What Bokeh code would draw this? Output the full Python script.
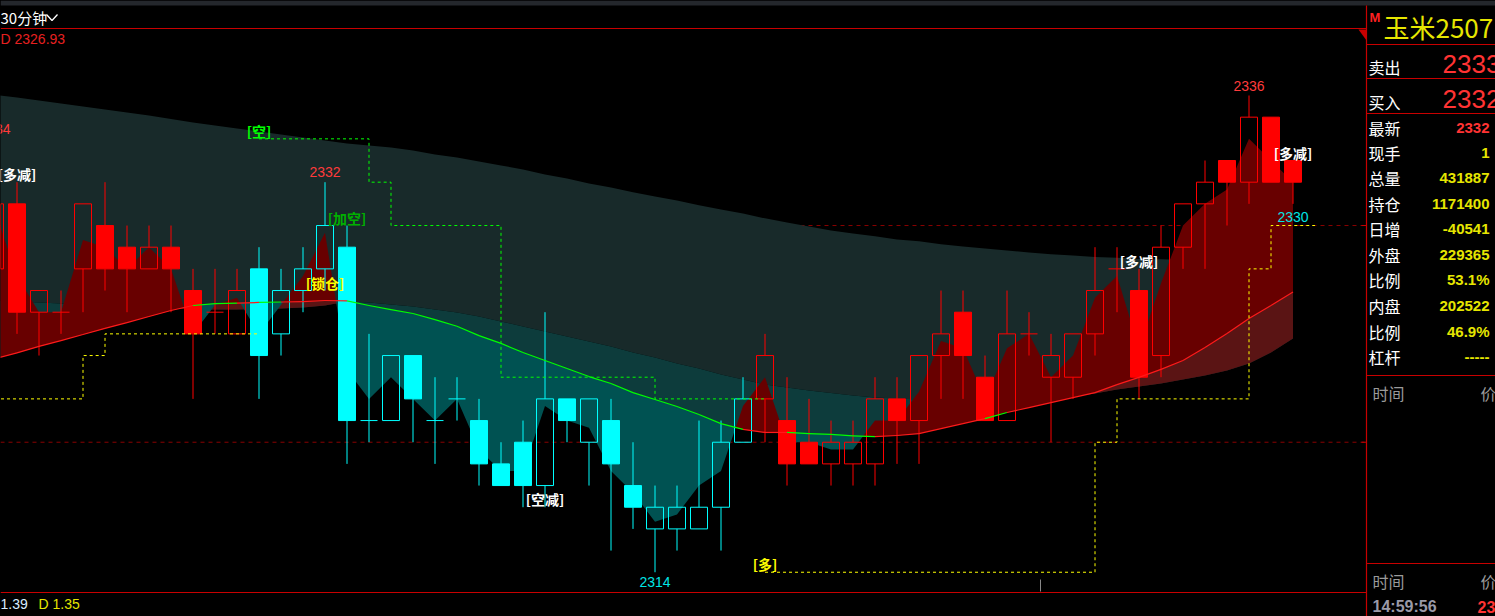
import numpy as np
from bokeh.plotting import figure
from bokeh.models import Range1d, GlobalInlineStyleSheet
from bokeh.core.properties import value
from bokeh.embed import file_html
from bokeh.resources import INLINE

# ---------------- data ----------------
bars = list(range(-1, 59))
opens = [2328, 2331, 2326, 2326, 2328, 2330, 2329, 2328, 2329, 2327, 2326, 2325,
         2328, 2325, 2327, 2328, 2329, 2321, 2321, 2324, 2321, 2322, 2321, 2319,
         2320, 2318, 2322, 2320, 2321, 2318, 2316, 2316, 2316, 2317, 2320, 2322,
         2321, 2320, 2319, 2319, 2319, 2322, 2321, 2324, 2326, 2323, 2321, 2325,
         2323, 2323, 2325, 2328, 2327, 2324, 2329, 2331, 2333, 2332, 2335, 2333]
highs = [2334, 2332, 2327, 2327, 2331, 2332, 2330, 2330, 2330, 2328, 2328, 2328,
         2329, 2328, 2329, 2332, 2330, 2325, 2324, 2324, 2323, 2323, 2322, 2320,
         2321, 2326, 2322, 2322, 2322, 2320, 2318, 2318, 2321, 2321, 2323, 2325,
         2323, 2322, 2321, 2321, 2323, 2323, 2324, 2327, 2327, 2324, 2327, 2326,
         2325, 2325, 2329, 2329, 2328, 2330, 2331, 2333, 2333, 2336, 2335, 2333]
lows = [2327, 2325, 2324, 2325, 2326, 2327, 2326, 2328, 2326, 2322, 2325, 2325,
        2322, 2324, 2326, 2327, 2319, 2320, 2321, 2320, 2319, 2321, 2318, 2318,
        2317, 2317, 2320, 2318, 2315, 2316, 2314, 2315, 2316, 2315, 2320, 2320,
        2318, 2319, 2318, 2318, 2318, 2319, 2319, 2322, 2322, 2321, 2321, 2324,
        2320, 2322, 2324, 2326, 2322, 2323, 2328, 2328, 2330, 2331, 2332, 2331]
closes = [2331, 2326, 2327, 2326, 2331, 2328, 2328, 2329, 2328, 2325, 2326, 2327,
          2324, 2327, 2328, 2330, 2321, 2321, 2324, 2322, 2321, 2322, 2319, 2318,
          2318, 2322, 2321, 2322, 2319, 2317, 2317, 2317, 2317, 2320, 2322, 2324,
          2319, 2319, 2320, 2320, 2322, 2321, 2324, 2325, 2324, 2321, 2325, 2325,
          2324, 2325, 2327, 2328, 2323, 2329, 2331, 2332, 2332, 2335, 2332, 2332]
# 1 = long phase (red), -1 = short phase (cyan)
trend = [1, 1, 1, 1, 1, 1, 1, 1, 1, 1, 1, 1,
         -1, -1, -1, -1, -1, -1, -1, -1, -1, -1, -1, -1,
         -1, -1, -1, -1, -1, -1, -1, -1, -1, -1, -1, 1,
         1, 1, 1, 1, 1, 1, 1, 1, 1, 1, 1, 1,
         1, 1, 1, 1, 1, 1, 1, 1, 1, 1, 1, 1]
ma_mid = [2323.86, 2324.12, 2324.42, 2324.69, 2324.97, 2325.25, 2325.52, 2325.80,
          2326.08, 2326.31, 2326.40, 2326.42, 2326.45, 2326.47, 2326.49, 2326.54,
          2326.52, 2326.31, 2326.12, 2325.94, 2325.66, 2325.35, 2324.92, 2324.56,
          2324.14, 2323.77, 2323.40, 2323.03, 2322.71, 2322.29, 2321.97, 2321.65,
          2321.28, 2320.86, 2320.59, 2320.45, 2320.45, 2320.40, 2320.36, 2320.29,
          2320.26, 2320.31, 2320.40, 2320.63, 2320.86, 2321.09, 2321.37, 2321.60,
          2321.83, 2322.06, 2322.29, 2322.66, 2322.99, 2323.36, 2323.77, 2324.37,
          2325.02, 2325.71, 2326.31, 2326.93]
band_upper = [2336.02, 2335.91, 2335.77, 2335.63, 2335.49, 2335.35, 2335.22, 2335.08,
              2334.92, 2334.75, 2334.62, 2334.48, 2334.34, 2334.20, 2334.06, 2333.92,
              2333.79, 2333.69, 2333.60, 2333.46, 2333.28, 2333.14, 2332.96, 2332.77,
              2332.59, 2332.36, 2332.17, 2331.94, 2331.76, 2331.53, 2331.34, 2331.16,
              2330.93, 2330.74, 2330.56, 2330.33, 2330.14, 2329.96, 2329.77, 2329.63,
              2329.50, 2329.36, 2329.27, 2329.13, 2329.03, 2328.94, 2328.85, 2328.76,
              2328.67, 2328.62, 2328.55, 2328.51, 2328.46, 2328.44, 2328.41, 2328.39,
              2328.37, 2328.34, 2328.32, 2328.30]
band_slow = [2326.54, 2326.49, 2326.45, 2326.40, 2326.36, 2326.31, 2326.26, 2326.22,
             2326.17, 2326.12, 2326.12, 2326.12, 2326.15, 2326.17, 2326.22, 2326.31,
             2326.49, 2326.45, 2326.36, 2326.26, 2326.12, 2325.99, 2325.80, 2325.57,
             2325.34, 2325.11, 2324.88, 2324.65, 2324.42, 2324.14, 2323.91, 2323.63,
             2323.40, 2323.12, 2322.89, 2322.66, 2322.53, 2322.39, 2322.27, 2322.16,
             2322.06, 2322.02, 2321.97, 2321.95, 2321.92, 2321.92, 2321.95, 2321.97,
             2322.02, 2322.11, 2322.25, 2322.43, 2322.57, 2322.71, 2322.89, 2323.08,
             2323.31, 2323.63, 2324.14, 2324.79]

# stop lines
long_stop1_bars = [-1, 0, 1, 2, 3, 4, 5, 6, 7, 8, 9, 10, 11]
long_stop1_vals = [2322, 2322, 2322, 2322, 2324, 2325, 2325, 2325, 2325, 2325, 2325, 2325, 2325]
short_stop_bars = list(range(11, 35))
short_stop_vals = [2334, 2334, 2334, 2334, 2334, 2332, 2330, 2330, 2330, 2330, 2330, 2323,
                   2323, 2323, 2323, 2323, 2323, 2323, 2322, 2322, 2322, 2322, 2322, 2322]
long_stop2_bars = list(range(34, 60))
long_stop2_vals = [2314, 2314, 2314, 2314, 2314, 2314, 2314, 2314, 2314, 2314, 2314, 2314,
                   2314, 2314, 2314, 2320, 2322, 2322, 2322, 2322, 2322, 2322, 2328, 2330,
                   2330, 2330]

# signal labels
sig_bars = [0, 11, 14, 15, 24, 34, 51, 58]
sig_levels = [2332, 2334, 2327, 2330, 2317, 2314, 2328, 2333]
sig_texts = ["[多减]", "[空]", "[锁仓]", "[加空]", "[空减]", "[多]", "[多减]", "[多减]"]

# extreme price labels
peak_bars = [-1, 14, 56]
trough_bars = [29]
grid_levels = [2330, 2320]

# quote panel
symbol = "玉米2507"
ask_price, bid_price = 2333, 2332
panel_labels = ["最新", "现手", "总量", "持仓", "日增", "外盘", "比例", "内盘", "比例", "杠杆"]
panel_values = ["2332", "1", "431887", "1171400", "-40541", "229365", "53.1%", "202522", "46.9%", "-----"]
sub_values = ["1.39", "D 1.35"]
last_time, last_px = "14:59:56", "23"

# ---------------- geometry helpers (page px -> data) ----------------
def X(xr):
    return (xr - 16.5) / 22.0

def Y(yr):
    return 2336 - (yr - 95) / 21.67

W, H = 1495, 616
p = figure(width=W, height=H, x_range=Range1d(X(0), X(W)), y_range=Range1d(Y(H), Y(0)),
           output_backend="svg", toolbar_location=None, min_border=0,
           x_axis_type=None, y_axis_type=None,
           background_fill_color="black", border_fill_color="black", outline_line_color=None)
p.xgrid.visible = False
p.ygrid.visible = False
p.stylesheets = [GlobalInlineStyleSheet(css="html, body { background: #000; }")]

CJK = value("Noto Sans CJK SC")
SANS = value("Liberation Sans")

bx = np.array(bars, dtype=float)
O = np.array(opens, float); Hh = np.array(highs, float); L = np.array(lows, float); C = np.array(closes, float)
MA = np.array(ma_mid); U = np.array(band_upper); S = np.array(band_slow)
M = (Hh + L + C) / 3.0

# top strip
p.quad(left=X(0), right=X(1495), top=Y(0), bottom=Y(5), fill_color="#24272c", line_color=None)

# grid dashed
for g in grid_levels:
    p.line([X(0), X(1365)], [g, g], line_color="#8a0000", line_dash="4 4", line_width=1)

def split(xs, a, b):
    xo, ao, bo = [], [], []
    for i in range(len(xs)):
        if i > 0:
            d0 = a[i - 1] - b[i - 1]; d1 = a[i] - b[i]
            if d0 * d1 < 0:
                t = d0 / (d0 - d1)
                xc = xs[i - 1] + t * (xs[i] - xs[i - 1])
                yc = a[i - 1] + t * (a[i] - a[i - 1])
                xo.append(xc); ao.append(yc); bo.append(yc)
        xo.append(xs[i]); ao.append(a[i]); bo.append(b[i])
    xo = np.array(xo); ao = np.array(ao); bo = np.array(bo)
    return xo, ao, bo, np.maximum(ao, bo)

# dark cloud band
p.varea(x=bx, y1=S, y2=U, fill_color="#182a2a")
# mid vs slow band
xs_, a_, b_, up_ = split(bx, MA, S)
p.varea(x=xs_, y1=b_, y2=up_, fill_color="#5a1414")   # MA above slow
p.varea(x=xs_, y1=a_, y2=up_, fill_color="#0d3c3c")   # MA below slow
# mountain fill
xs_, a_, b_, up_ = split(bx, M, MA)
p.varea(x=xs_, y1=b_, y2=up_, fill_color="#680000")
p.varea(x=xs_, y1=a_, y2=up_, fill_color="#005252")

# candles
RED, CYAN = "#ff0000", "#00ffff"
cols = [RED if t > 0 else CYAN for t in trend]
bw = 17.0 / 22.0
top = np.maximum(O, C); bot = np.minimum(O, C)
hol = [i for i in range(len(bars)) if C[i] > O[i]]
fil = [i for i in range(len(bars)) if C[i] < O[i]]
doj = [i for i in range(len(bars)) if C[i] == O[i]]
uw = [i for i in range(len(bars)) if Hh[i] > top[i]]
lw = [i for i in range(len(bars)) if L[i] < bot[i]]
p.segment(x0=bx[uw], y0=top[uw], x1=bx[uw], y1=Hh[uw], line_color=[cols[i] for i in uw], line_width=1)
p.segment(x0=bx[lw], y0=bot[lw], x1=bx[lw], y1=L[lw], line_color=[cols[i] for i in lw], line_width=1)
p.vbar(x=bx[hol], width=bw, top=top[hol], bottom=bot[hol], fill_alpha=0,
       line_color=[cols[i] for i in hol], line_width=1)
p.vbar(x=bx[fil], width=bw, top=top[fil], bottom=bot[fil],
       fill_color=[cols[i] for i in fil], line_color=[cols[i] for i in fil], line_width=1)
p.segment(x0=bx[doj] - bw / 2, y0=O[doj], x1=bx[doj] + bw / 2, y1=O[doj],
          line_color=[cols[i] for i in doj], line_width=1)

# mid line, coloured by close vs line
seg_col = ["#ff1a1a" if C[i] >= MA[i] else "#00ff00" for i in range(len(bars) - 1)]
p.segment(x0=bx[:-1], y0=MA[:-1], x1=bx[1:], y1=MA[1:], line_color=seg_col, line_width=1.2)

# stop lines
p.step(x=long_stop1_bars, y=long_stop1_vals, mode="after", line_color="#ffff00", line_dash="3 3", line_width=1)
p.step(x=short_stop_bars, y=short_stop_vals, mode="after", line_color="#00ff00", line_dash="3 3", line_width=1)
p.step(x=long_stop2_bars, y=long_stop2_vals, mode="after", line_color="#ffff00", line_dash="3 3", line_width=1)

# signal labels
sig_colors = {"[多减]": "#ffffff", "[空减]": "#ffffff", "[空]": "#00ff00", "[加空]": "#00b000",
              "[锁仓]": "#ffff00", "[多]": "#ffff00"}
for b, lv, t in zip(sig_bars, sig_levels, sig_texts):
    p.text(x=[b], y=[lv], text=[t], text_color=sig_colors[t], text_font=CJK, text_font_size="14px",
           text_font_style="bold", text_align="center", text_baseline="middle", y_offset=-8)

# extreme labels
for b in peak_bars:
    i = bars.index(b)
    p.text(x=[b], y=[highs[i]], text=[str(highs[i])], text_color="#ff3b3b", text_font=SANS,
           text_font_size="14px", text_align="center", text_baseline="middle", y_offset=-10)
for b in trough_bars:
    i = bars.index(b)
    p.text(x=[b], y=[lows[i]], text=[str(lows[i])], text_color="#00e5e5", text_font=SANS,
           text_font_size="14px", text_align="center", text_baseline="middle", y_offset=10)
p.text(x=[bars[-1]], y=[long_stop2_vals[-1]], text=[str(long_stop2_vals[-1])], text_color="#00e5e5",
       text_font=SANS, text_font_size="14px", text_align="center", text_baseline="middle", y_offset=-9)

# ---------------- frame decorations ----------------
def hline(y, x0, x1, color="#c80000", w=1.2):
    p.line([X(x0), X(x1)], [Y(y), Y(y)], line_color=color, line_width=w)

def txt(xr, yr, s, color, size, font=CJK, style="normal", align="left"):
    p.text(x=[X(xr)], y=[Y(yr)], text=[s], text_color=color, text_font=font,
           text_font_size=f"{size}px", text_font_style=style, text_align=align, text_baseline="middle")

hline(28, 0, 1366)
hline(592, 0, 1366)
p.line([X(1366), X(1366)], [Y(5), Y(616)], line_color="#c80000", line_width=1.2)
for yy in [44, 78, 113, 375, 563]:
    hline(yy, 1366, 1495)
for g in grid_levels:
    p.line([X(1361), X(1366)], [g, g], line_color="#c80000", line_width=1)
p.patch([X(1358), X(1366), X(1366)], [Y(29), Y(29), Y(40)], fill_color="#c80000", line_color=None)
p.line([X(1040), X(1040)], [Y(579), Y(591)], line_color="#888888", line_width=1)

# header
txt(0, 17, "30分钟", "#ffffff", 15)
p.line([X(46), X(51.5), X(57)], [Y(14), Y(20), Y(14)], line_color="#ffffff", line_width=1.3)
txt(0, 38, f"D {ma_mid[-1]:.2f}", "#e82020", 14, font=SANS)
# sub pane values
txt(0, 603, sub_values[0], "#d8ecff", 14, font=SANS)
txt(38, 603, sub_values[1], "#e6e600", 14, font=SANS)

# quote panel
txt(1369, 17, "M", "#ff2020", 13, font=SANS, style="bold")
txt(1383, 26, symbol, "#e6e600", 26)
txt(1368, 66, "卖出", "#ffffff", 16)
txt(1442, 63, str(ask_price), "#ff3333", 26, font=SANS)
txt(1368, 101, "买入", "#ffffff", 16)
txt(1442, 98, str(bid_price), "#ff3333", 26, font=SANS)
row_y = [127, 152, 177, 203, 228, 254, 279, 305, 331, 356]
for i, (lab, val) in enumerate(zip(panel_labels, panel_values)):
    txt(1368, row_y[i], lab, "#ffffff", 16)
    txt(1489, row_y[i], val, "#ff3333" if i == 0 else "#e6e600", 15, font=SANS, style="bold", align="right")
txt(1372, 392, "时间", "#9a9a9a", 16)
txt(1480, 392, "价", "#9a9a9a", 16)
txt(1372, 580, "时间", "#9a9a9a", 16)
txt(1480, 580, "价", "#9a9a9a", 16)
txt(1372, 606, last_time, "#9a9aa8", 16, font=SANS, style="bold")
txt(1477, 606, last_px, "#ff3333", 16, font=SANS, style="bold")

open("out.html", "w").write(file_html(p, INLINE))
